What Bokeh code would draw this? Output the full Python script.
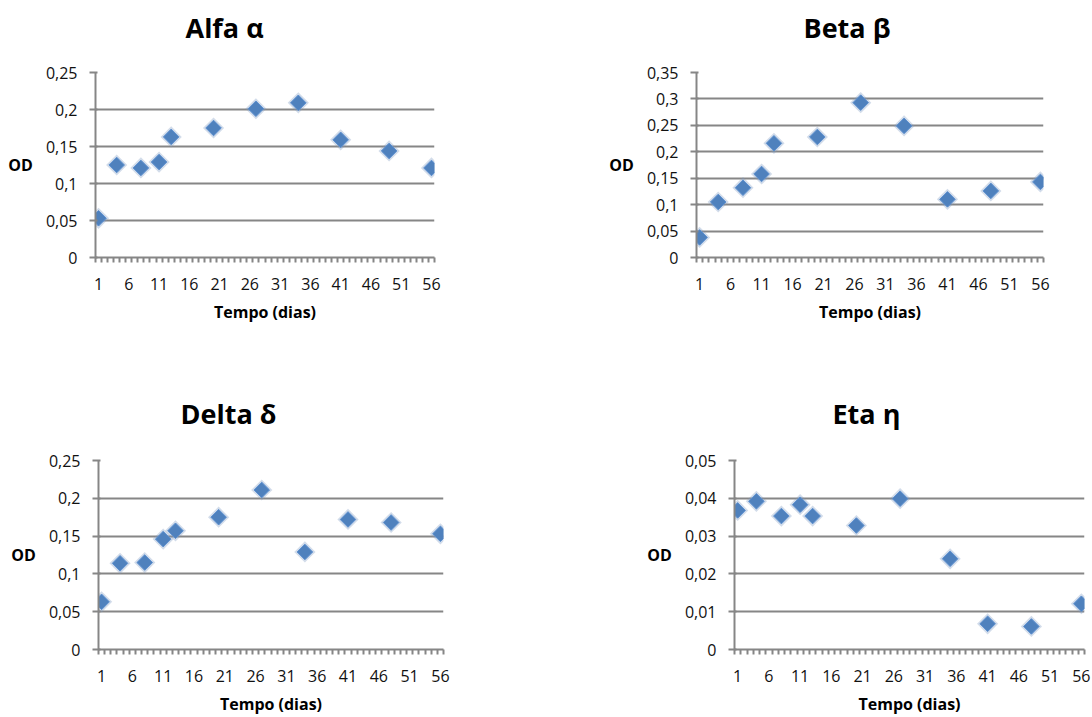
import math
from bokeh.plotting import figure
from bokeh.layouts import column, row
from bokeh.models import Range1d, FixedTicker, CustomJSTickFormatter, ColumnDataSource, Title
from bokeh.embed import file_html
from bokeh.resources import INLINE

# ---- data ----
titles = ["Alfa α", "Beta β", "Delta δ", "Eta η"]
days_alfa = [1, 4, 8, 11, 13, 20, 27, 34, 41, 49, 56]
od_alfa = [0.053, 0.125, 0.121, 0.129, 0.163, 0.175, 0.201, 0.209, 0.159, 0.144, 0.121]
days_beta = [1, 4, 8, 11, 13, 20, 27, 34, 41, 48, 56]
od_beta = [0.038, 0.105, 0.132, 0.158, 0.216, 0.228, 0.293, 0.249, 0.110, 0.126, 0.143]
days_delta = [1, 4, 8, 11, 13, 20, 27, 34, 41, 48, 56]
od_delta = [0.063, 0.114, 0.115, 0.146, 0.157, 0.175, 0.211, 0.129, 0.172, 0.168, 0.153]
days_eta = [1, 4, 8, 11, 13, 20, 27, 35, 41, 48, 56]
od_eta = [0.0368, 0.0392, 0.0353, 0.0383, 0.0353, 0.0328, 0.0399, 0.0240, 0.0068, 0.0061, 0.0121]
x_tick_labels = [1, 6, 11, 16, 21, 26, 31, 36, 41, 46, 51, 56]
n_categories = 56
y_max = [0.25, 0.35, 0.25, 0.05]
y_step = [0.05, 0.05, 0.05, 0.01]
x_title = "Tempo (dias)"
y_title = "OD"

FONT = "Open Sans"
GRID = "#868686"
BLUE = "#4F81BD"


def panel(title, days, vals, ymax, ystep, width, height, bl, br, bt, bb, title_offset, gap):
    p = figure(width=width, height=height,
               x_range=Range1d(0.5, n_categories + 0.5),
               y_range=Range1d(0, ymax),
               output_backend="svg", toolbar_location=None,
               min_border_left=bl, min_border_right=br,
               min_border_top=bt, min_border_bottom=bb,
               outline_line_color=None, background_fill_color="white",
               border_fill_color="white")
    # invisible spacer between chart title and plot area
    p.add_layout(Title(text=" ", text_font_size="1px", standoff=gap), "above")
    p.add_layout(Title(text=title, align="left", offset=title_offset,
                       text_font=FONT, text_font_style="bold",
                       text_font_size="27px", text_color="#000000",
                       standoff=0), "above")

    nt = int(round(ymax / ystep))
    yt = [round(i * ystep, 4) for i in range(nt + 1)]
    fmt = CustomJSTickFormatter(code="return (Math.round(tick*1000)/1000).toString().replace('.', ',');")

    # y axis
    ya = p.yaxis[0]
    ya.ticker = FixedTicker(ticks=yt)
    ya.formatter = fmt
    ya.axis_line_color = GRID
    ya.axis_line_width = 2
    ya.major_tick_line_color = GRID
    ya.major_tick_line_width = 2
    ya.major_tick_out = 6
    ya.major_tick_in = 2
    ya.minor_tick_line_color = None
    ya.major_label_standoff = 12
    ya.major_label_text_font = FONT
    ya.major_label_text_font_size = "16px"
    ya.major_label_text_color = "#111111"
    ya.axis_label = y_title
    ya.axis_label_orientation = "horizontal"
    ya.axis_label_standoff = 10
    ya.axis_label_text_font = FONT
    ya.axis_label_text_font_style = "bold"
    ya.axis_label_text_font_size = "16px"
    ya.axis_label_text_color = "#000000"

    # x axis (category style)
    xa = p.xaxis[0]
    xa.ticker = FixedTicker(ticks=x_tick_labels,
                            minor_ticks=[i + 0.5 for i in range(n_categories + 1)])
    xa.axis_line_color = GRID
    xa.axis_line_width = 2
    xa.major_tick_line_color = None
    xa.major_tick_out = 0
    xa.major_tick_in = 0
    xa.minor_tick_line_color = GRID
    xa.minor_tick_line_width = 2
    xa.minor_tick_out = 5
    xa.minor_tick_in = 0
    xa.major_label_standoff = 15
    xa.major_label_text_font = FONT
    xa.major_label_text_font_size = "16px"
    xa.major_label_text_color = "#111111"
    xa.axis_label = x_title
    xa.axis_label_standoff = 8
    xa.axis_label_text_font = FONT
    xa.axis_label_text_font_style = "bold"
    xa.axis_label_text_font_size = "16px"
    xa.axis_label_text_color = "#000000"

    p.xgrid.grid_line_color = None
    p.ygrid.ticker = FixedTicker(ticks=yt)
    p.ygrid.grid_line_color = GRID
    p.ygrid.grid_line_width = 2

    src = ColumnDataSource(dict(x=days, y=vals))
    p.scatter("x", "y", source=src, marker="square", size=15, angle=math.pi / 4,
              fill_color="#7f9cc4", fill_alpha=0.35, line_color=None)
    p.scatter("x", "y", source=src, marker="square", size=11, angle=math.pi / 4,
              fill_color=BLUE, line_color="#5b8fd0", line_width=1)
    return p


pa = panel(titles[0], days_alfa, od_alfa, y_max[0], y_step[0],
           450, 345, 95, 16, 72, 88, 90, 24)
pb = panel(titles[1], days_beta, od_beta, y_max[1], y_step[1],
           642, 345, 246, 49, 72, 88, 107, 24)
pc = panel(titles[2], days_delta, od_delta, y_max[2], y_step[2],
           450, 372, 98, 7, 115, 67, 82, 26)
pd = panel(titles[3], days_eta, od_eta, y_max[3], y_step[3],
           642, 372, 284, 8, 115, 65, 98, 26)

layout = column(row(pa, pb), row(pc, pd))
open("out.html", "w").write(file_html(layout, INLINE))
